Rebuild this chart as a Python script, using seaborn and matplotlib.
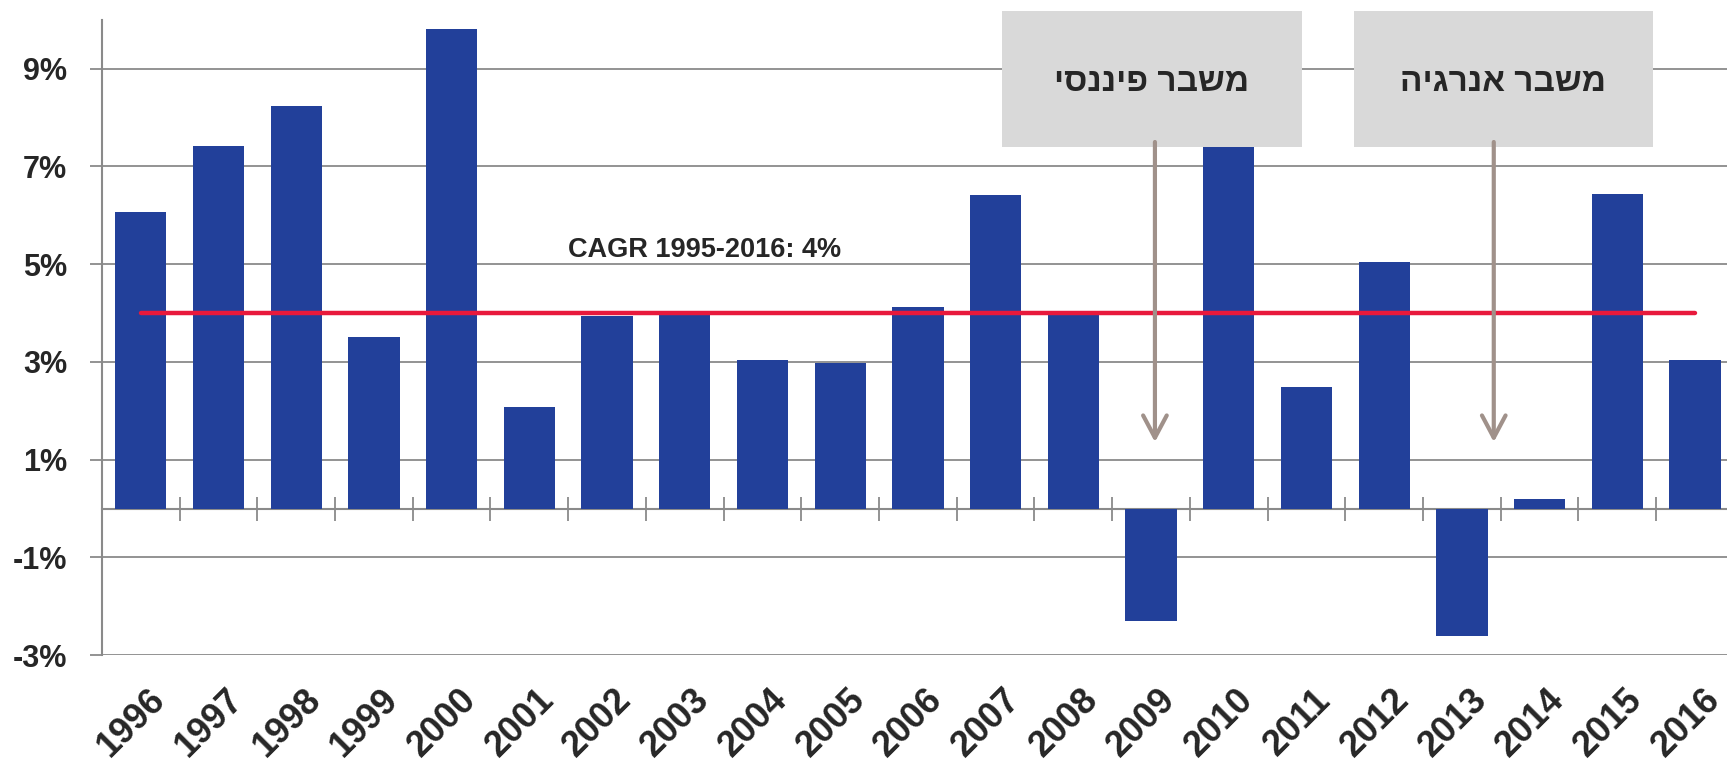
import numpy as np
import seaborn as sns
import matplotlib.pyplot as plt
from matplotlib.patches import Rectangle
from matplotlib.transforms import ScaledTranslation

# yearly growth, %
years = ["1996", "1997", "1998", "1999", "2000", "2001", "2002", "2003", "2004",
         "2005", "2006", "2007", "2008", "2009", "2010", "2011", "2012", "2013",
         "2014", "2015", "2016"]
growth = [6.06, 7.41, 8.24, 3.51, 9.82, 2.07, 3.94, 3.99, 3.04, 2.97, 4.12,
          6.42, 3.99, -2.31, 7.41, 2.48, 5.05, -2.60, 0.20, 6.44, 3.04]
cagr = 4.0
cagr_label = "CAGR 1995-2016: 4%"
yticks = [-3, -1, 1, 3, 5, 7, 9]

# crisis call-outs
crisis_labels = ["משבר פיננסי", "משבר אנרגיה"]
crisis_x = [13.05, 17.41]

BLUE = "#22409A"
RED = "#E8193C"
GRID = "#8A8A8A"
ARROW = "#A0918A"
BOX = "#D9D9D9"

sns.set_style("white")
plt.rcParams["font.family"] = ["Liberation Sans", "DejaVu Sans"]

fig = plt.figure(figsize=(17.27, 7.61), dpi=100)
ax = fig.add_axes([0.059, 0.139, 0.945, 0.835])

sns.barplot(x=years, y=growth, color=BLUE, saturation=1, width=0.66,
            edgecolor="none", ax=ax, zorder=3)

n = len(years)
ax.set_xlim(-0.5, n - 0.5)
ax.set_ylim(-3, 10)
ax.set_axisbelow(True)

# average growth line
ax.hlines(cagr, 0, n - 1, color=RED, lw=3.2, zorder=4, capstyle="round")
ax.text(7.26, 5.30, cagr_label, ha="center", va="center", fontsize=19.5,
        fontweight="bold", zorder=5)

# y axis
ax.set_yticks(yticks)
ax.set_yticklabels([f"{v}%" for v in yticks])
ax.yaxis.grid(True, color=GRID, lw=1.3)
ax.xaxis.grid(False)
ax.tick_params(axis="y", left=True, direction="out", length=9, width=1.3,
               color=GRID, labelsize=22, pad=16)
for t in ax.get_yticklabels():
    t.set_fontweight("bold")

for s in ["top", "right"]:
    ax.spines[s].set_visible(False)
ax.spines["left"].set_color(GRID)
ax.spines["left"].set_linewidth(1.5)
ax.spines["bottom"].set_position(("data", 0))
ax.spines["bottom"].set_color(GRID)
ax.spines["bottom"].set_linewidth(1.5)

# x axis: category boundary ticks on the zero line, labels under the plot
ax.set_xticks(np.arange(n + 1) - 0.5, minor=True)
ax.set_xticks(np.arange(n))
ax.set_xticklabels(years, rotation=45, ha="right", va="top",
                   rotation_mode="anchor", fontsize=26, fontweight="bold")
ax.tick_params(axis="x", which="minor", bottom=True, direction="inout",
               length=17, width=1.3, color=GRID)
ax.tick_params(axis="x", which="major", bottom=True, length=0, pad=0)
drop = (ax.transData.transform((0, 0))[1] - ax.transData.transform((0, -3))[1])
shift = ScaledTranslation(7 / fig.dpi, -(drop + 27) / fig.dpi, fig.dpi_scale_trans)
for t in ax.get_xticklabels():
    t.set_transform(t.get_transform() + shift)

# call-out boxes with arrows
box_spans = [(11.08, 14.94), (15.61, 19.46)]
for (x0, x1), label, cx in zip(box_spans, crisis_labels, crisis_x):
    ax.add_patch(Rectangle((x0, 7.40), x1 - x0, 2.78, facecolor=BOX,
                           edgecolor="none", zorder=6, clip_on=False))
    ax.text((x0 + x1) / 2, 8.72, label[::-1], ha="center", va="center",
            fontsize=24, fontweight="bold", zorder=7)
    ax.annotate("", xy=(cx, 1.36), xytext=(cx, 7.5), zorder=7,
                arrowprops=dict(arrowstyle="->,head_length=1.6,head_width=0.85",
                                color=ARROW, lw=3, mutation_scale=10,
                                shrinkA=0, shrinkB=0))

plt.savefig("out.png")
